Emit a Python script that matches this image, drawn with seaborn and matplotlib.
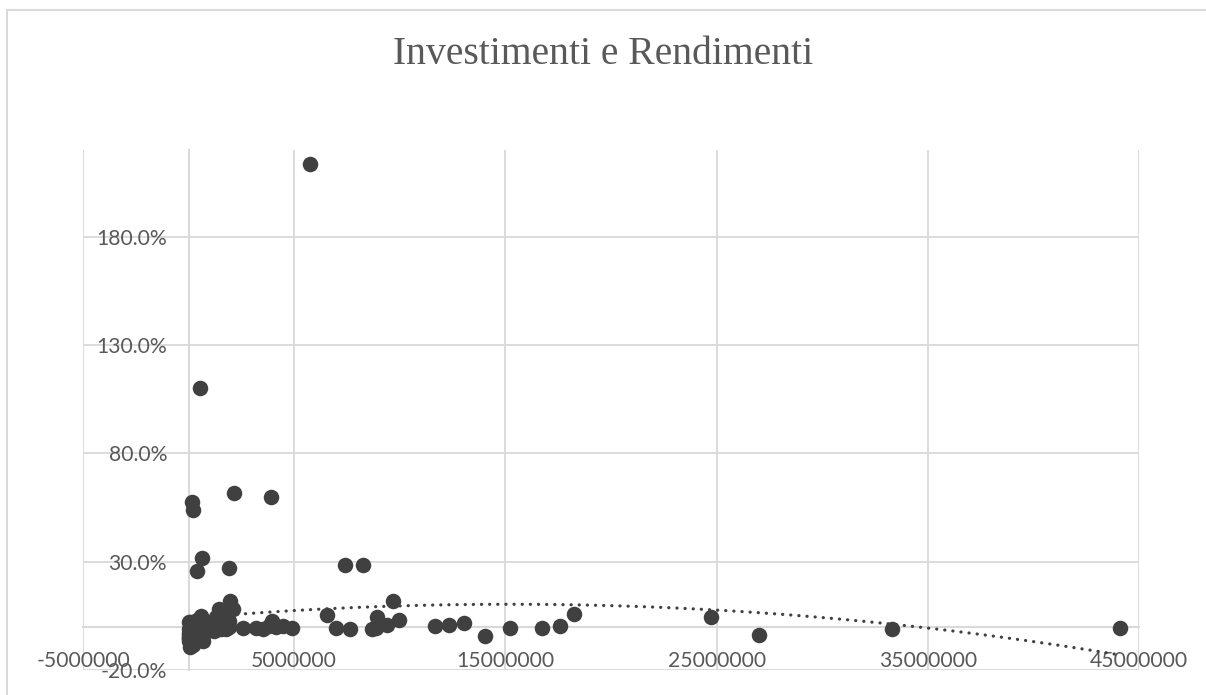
import numpy as np
import pandas as pd
import seaborn as sns
import matplotlib
matplotlib.use("Agg")
import matplotlib.pyplot as plt
from matplotlib.ticker import FuncFormatter, FixedLocator
from matplotlib.lines import Line2D

# ---- data: visible points (investment in units, return in %) ----
investimenti = [
    50000, 200000, 0, 300000, 670000, 100000, 50000, 400000, 40000, 360000,
    590000, 800000, 1000000, 1300000, 1460000, 1600000, 1780000, 1930000, 1950000, 2100000,
    1970000, 1400000, 1700000, 250000, 150000, 500000,
    170000, 200000, 550000, 640000, 400000, 1920000, 2160000, 3910000, 5760000, 7420000, 8270000,
    2570000, 3200000, 3500000, 3800000, 3940000, 4150000, 4460000, 4900000,
    6550000, 7000000, 7650000, 8680000, 8920000, 9390000, 9700000, 9940000, 8850000,
    11650000, 12330000, 13020000, 14020000, 15240000, 16740000, 17570000, 18240000,
    24750000, 27000000, 33300000, 44100000,
]
rendimenti = [
    -9.6, -8.5, -6.4, -5.5, -6.4, -4.0, -2.0, -3.0, 2.1, 1.3,
    5.1, -1.0, -0.3, 4.3, 8.2, 2.1, 5.9, 2.8, 10.5, 8.3,
    12.0, -1.0, -0.5, -7.5, -3.5, -4.5,
    57.6, 54.0, 110.2, 31.8, 25.9, 27.2, 61.8, 60.0, 213.5, 28.6, 28.6,
    -0.8, -0.8, -1.0, 0.5, 2.8, -0.3, 0.2, -0.8,
    5.6, -0.7, -1.0, -1.0, 4.3, 0.8, 12.0, 3.1, -0.8,
    0.5, 1.0, 1.7, -4.4, -0.7, -0.7, 0.1, 5.9,
    4.6, -3.7, -1.3, -0.7,
]
# ---- points hidden inside the dense cluster near the origin ----
investimenti_cluster = [
    0, 20000, 30000, 60000, 80000, 100000, 120000, 150000, 180000, 200000,
    220000, 250000, 280000, 300000, 320000, 350000, 380000, 420000, 450000, 480000,
    500000, 520000, 550000, 600000, 650000, 700000, 750000, 800000, 850000, 900000,
    950000, 1000000, 1050000, 1100000, 1150000, 1200000, 1250000, 1300000, 1350000, 1400000,
    1450000, 1500000, 1550000, 1600000, 1650000, 1700000, 1750000, 1800000, 1850000, 1900000,
    10000, 40000, 90000, 130000, 160000, 210000, 260000, 330000, 400000, 460000,
]
rendimenti_cluster = [
    -3, -5, -1, 2, -7, -2, 0, -4, 1, -6,
    -2, 0, -5, 1, -3, -1, 3, -4, 0, -2,
    1, -3, 0, 2, -1, -4, 0, 1, -2, -1,
    0, 1, -1, 2, 0, -2, 1, 0, -1, 3,
    0, 2, -1, 1, 3, 0, -1, 2, 1, 0,
    -5, -4, -3, -1, 0, -4, 2, -2, 1, -3,
]
x_ticks = [-5000000, 5000000, 15000000, 25000000, 35000000, 45000000]
y_ticks = [-20, 30, 80, 130, 180]
titolo = "Investimenti e Rendimenti"

df = pd.DataFrame({"Investimento": investimenti + investimenti_cluster,
                   "Rendimento": rendimenti + rendimenti_cluster})

sns.set_theme(style="white")
plt.rcParams["font.family"] = ["Lato", "DejaVu Sans"]

W, H = 1206, 695
fig = plt.figure(figsize=(W / 100, H / 100), dpi=100)
ax = fig.add_axes([83 / W, 1 - 670 / H, (1139 - 83) / W, (670 - 150) / H])

grid_c = "#d9d9d9"
text_c = "#595959"
pt_c = "#404040"

sns.scatterplot(data=df, x="Investimento", y="Rendimento", ax=ax, s=125,
                color=pt_c, edgecolor=pt_c, linewidth=0, zorder=3)
sns.regplot(data=df, x="Investimento", y="Rendimento", ax=ax, order=2, ci=None,
            scatter=False, truncate=True,
            line_kws=dict(color=pt_c, lw=2.3, linestyle=(0, (0.05, 2.5)),
                          dash_capstyle="round", zorder=4))

ax.set_xlim(-5000000, 45000000)
ax.set_ylim(-20, 220)
ax.xaxis.set_major_locator(FixedLocator(x_ticks))
ax.yaxis.set_major_locator(FixedLocator(y_ticks))
ax.xaxis.set_major_formatter(FuncFormatter(lambda v, p: f"{int(round(v))}"))
ax.yaxis.set_major_formatter(FuncFormatter(lambda v, p: f"{v:.1f}%"))

ax.grid(True, color=grid_c, lw=1.3, zorder=0)
ax.set_axisbelow(True)
for s in ["top", "right"]:
    ax.spines[s].set_visible(False)
ax.spines["left"].set_position(("data", 0))
ax.spines["bottom"].set_position(("data", 0))
for s in ["left", "bottom"]:
    ax.spines[s].set_color(grid_c)
    ax.spines[s].set_linewidth(1.5)
    ax.spines[s].set_zorder(1)

ax.tick_params(axis="both", length=0, labelsize=15.2, labelcolor=text_c)
ax.tick_params(axis="y", pad=15.5)
ax.tick_params(axis="x", pad=17.5)
ax.set_xlabel("")
ax.set_ylabel("")

fig.text(603 / W, 1 - 54 / H, titolo, ha="center", va="center",
         fontsize=28.5, color=text_c, family=["Liberation Serif", "DejaVu Serif"])

# chart border
fig.add_artist(Line2D([7 / W, 1.0], [1 - 10 / H, 1 - 10 / H], color=grid_c, lw=1.5,
                      transform=fig.transFigure))
fig.add_artist(Line2D([7 / W, 7 / W], [1 - 10 / H, 0], color=grid_c, lw=1.5,
                      transform=fig.transFigure))

fig.savefig("out.png", dpi=100)
